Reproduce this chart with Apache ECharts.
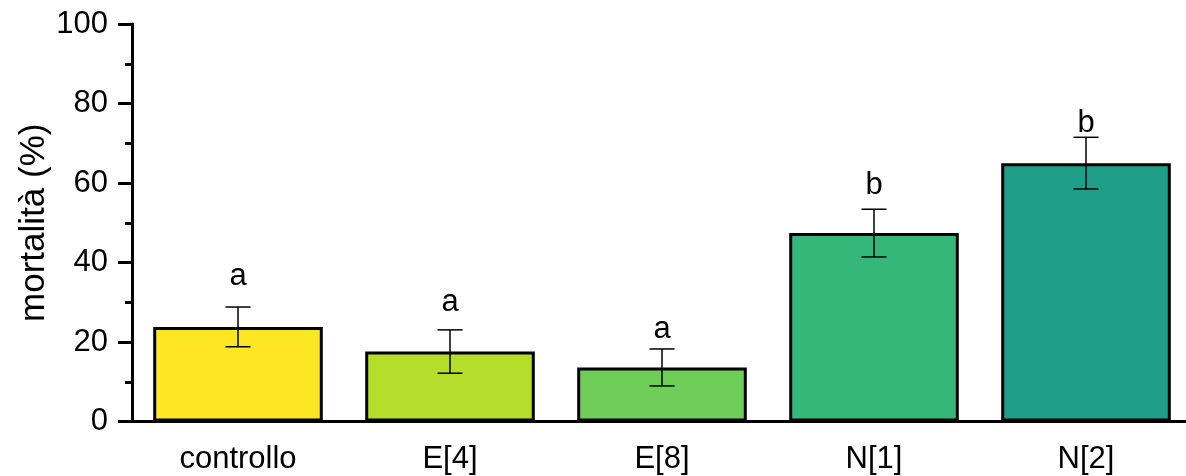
<!DOCTYPE html>
<html>
<head>
<meta charset="utf-8">
<script src="https://cdn.jsdelivr.net/npm/echarts@6/dist/echarts.min.js"></script>
<style>
html, body { margin: 0; padding: 0; background: #fff; }
#chart { width: 1186px; height: 476px; }
</style>
</head>
<body>
<div id="chart"></div>
<script>
var categories = ['controllo', 'E[4]', 'E[8]', 'N[1]', 'N[2]'];
var mortality = [23.8, 17.6, 13.6, 47.4, 65.0];
var errors = [5.0, 5.45, 4.65, 6.0, 6.5];
var letters = ['a', 'a', 'a', 'b', 'b'];
var letterY = [33.6, 27.3, 20.5, 56.7, 72.3];
var barColors = ['#FDE725', '#B5DE2B', '#6ECE58', '#35B779', '#1F9E89'];

var font = "'Liberation Sans', Arial, sans-serif";
var chart = echarts.init(document.getElementById('chart'));

var barData = mortality.map(function (v, i) {
    return { value: v, itemStyle: { color: barColors[i] } };
});
var errData = mortality.map(function (v, i) {
    return [i, v, errors[i]];
});
var letterData = letters.map(function (l, i) {
    return [i, letterY[i], l];
});

option = {
    animation: false,
    grid: { left: 132, right: -6, top: 24, bottom: 54.5, outerBoundsMode: 'none', containLabel: false },
    xAxis: {
        type: 'category',
        data: categories,
        axisLine: { lineStyle: { color: '#000', width: 3 } },
        axisTick: { alignWithLabel: true, length: 12, lineStyle: { color: '#000', width: 3 } },
        axisLabel: { color: '#000', fontSize: 31, fontFamily: font, margin: 22 }
    },
    yAxis: {
        type: 'value',
        min: 0,
        max: 100,
        interval: 20,
        name: 'mortalità (%)',
        nameLocation: 'middle',
        nameGap: 80,
        nameMoveOverlap: false,
        nameTextStyle: { color: '#000', fontSize: 35, fontFamily: font },
        axisLine: { show: true, lineStyle: { color: '#000', width: 3 } },
        axisTick: { show: true, length: 14, lineStyle: { color: '#000', width: 3 } },
        minorTick: { show: true, splitNumber: 2, length: 7, lineStyle: { color: '#000', width: 3 } },
        splitLine: { show: false },
        axisLabel: { color: '#000', fontSize: 31, fontFamily: font, margin: 24 }
    },
    series: [
        {
            type: 'bar',
            data: barData,
            barWidth: '80%',
            itemStyle: { borderColor: '#000', borderWidth: 3 }
        },
        {
            type: 'custom',
            data: errData,
            z: 5,
            renderItem: function (params, api) {
                var x = api.value(0), m = api.value(1), e = api.value(2);
                var hi = api.coord([x, m + e]);
                var lo = api.coord([x, m - e]);
                var w = 12.5;
                var st = { stroke: '#000', lineWidth: 1.5 };
                return {
                    type: 'group',
                    children: [
                        { type: 'line', shape: { x1: hi[0], y1: hi[1], x2: lo[0], y2: lo[1] }, style: st },
                        { type: 'line', shape: { x1: hi[0] - w, y1: hi[1], x2: hi[0] + w, y2: hi[1] }, style: st },
                        { type: 'line', shape: { x1: lo[0] - w, y1: lo[1], x2: lo[0] + w, y2: lo[1] }, style: st }
                    ]
                };
            }
        },
        {
            type: 'custom',
            data: letterData,
            z: 6,
            renderItem: function (params, api) {
                var pt = api.coord([api.value(0), api.value(1)]);
                return {
                    type: 'text',
                    x: pt[0],
                    y: pt[1] - 11,
                    style: {
                        text: letterData[params.dataIndex][2],
                        fill: '#000',
                        font: '31px ' + font,
                        align: 'center',
                        verticalAlign: 'middle'
                    }
                };
            }
        }
    ]
};
chart.setOption(option);
</script>
</body>
</html>
